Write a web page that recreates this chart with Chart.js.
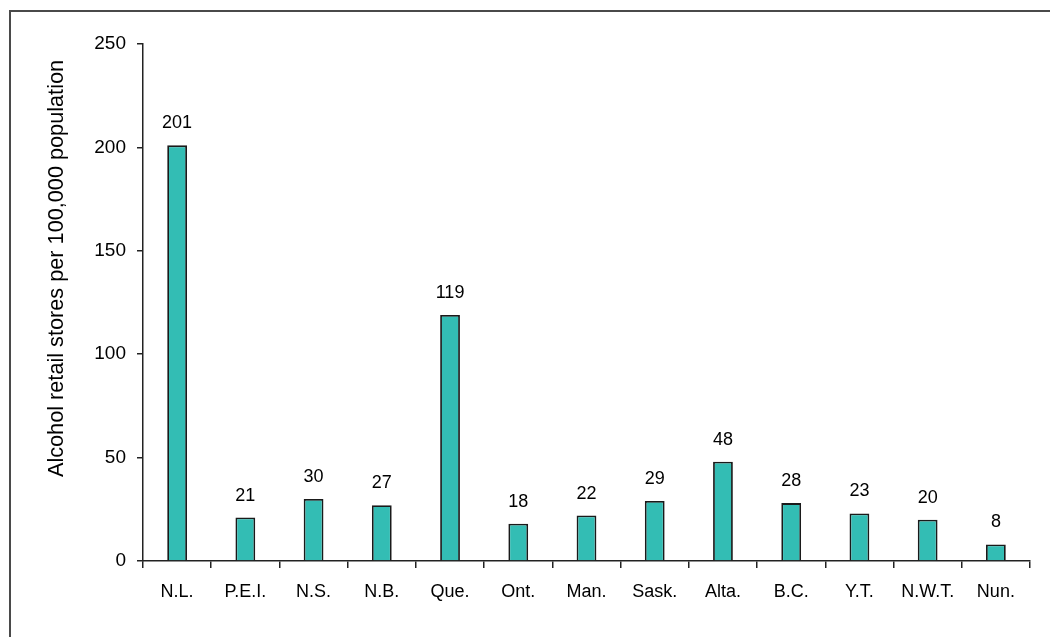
<!DOCTYPE html>
<html>
<head>
<meta charset="utf-8">
<script src="https://cdn.jsdelivr.net/npm/chart.js@4.4.0/dist/chart.umd.min.js"></script>
<style>
  html, body { margin: 0; padding: 0; background: #fff; }
  #wrap { width: 1050px; height: 637px; position: relative; }
</style>
</head>
<body>
<div id="wrap"><canvas id="c" width="1050" height="637"></canvas></div>
<script>
const categories = ["N.L.", "P.E.I.", "N.S.", "N.B.", "Que.", "Ont.", "Man.", "Sask.", "Alta.", "B.C.", "Y.T.", "N.W.T.", "Nun."];
const storesPer100k = [201, 21, 30, 27, 119, 18, 22, 29, 48, 28, 23, 20, 8];
const yTickValues = [0, 50, 100, 150, 200, 250];
const yAxisTitle = "Alcohol retail stores per 100,000 population";

const FONT = "'Liberation Sans', Arial, sans-serif";

const framePlugin = {
  id: 'frame',
  beforeDraw(chart) {
    const ctx = chart.ctx;
    ctx.save();
    ctx.fillStyle = '#fff';
    ctx.fillRect(0, 0, chart.width, chart.height);
    ctx.strokeStyle = '#4a4a4a';
    ctx.lineWidth = 2;
    ctx.beginPath();
    ctx.moveTo(10, chart.height);
    ctx.lineTo(10, 11);
    ctx.lineTo(chart.width, 11);
    ctx.stroke();
    ctx.restore();
  }
};

const axisTitlePlugin = {
  id: 'axisTitle',
  afterDraw(chart) {
    const ctx = chart.ctx;
    ctx.save();
    ctx.translate(57, 268.5);
    ctx.rotate(-Math.PI / 2);
    ctx.font = "21.7px " + FONT;
    ctx.fillStyle = '#000';
    ctx.textAlign = 'center';
    ctx.textBaseline = 'middle';
    ctx.fillText(yAxisTitle, 0, 0);
    ctx.restore();
  }
};

const valueLabels = {
  id: 'valueLabels',
  afterDatasetsDraw(chart) {
    const ctx = chart.ctx;
    const meta = chart.getDatasetMeta(0);
    const data = chart.data.datasets[0].data;
    ctx.save();
    ctx.font = "18px " + FONT;
    ctx.fillStyle = '#000';
    ctx.textAlign = 'center';
    ctx.textBaseline = 'alphabetic';
    meta.data.forEach((bar, i) => {
      ctx.fillText(String(data[i]), bar.x, bar.y - 17);
    });
    ctx.restore();
  }
};

new Chart(document.getElementById('c'), {
  type: 'bar',
  data: {
    labels: categories,
    datasets: [{
      data: storesPer100k,
      backgroundColor: '#33bdb4',
      borderColor: '#1a1a1a',
      borderWidth: 1.8,
      categoryPercentage: 1.0,
      barPercentage: 0.29
    }]
  },
  options: {
    responsive: false,
    animation: false,
    devicePixelRatio: 1,
    layout: { padding: { top: 44, right: 20, bottom: 0, left: 0 } },
    plugins: { legend: { display: false }, tooltip: { enabled: false } },
    scales: {
      x: {
        offset: true,
        grid: { offset: true, drawOnChartArea: false, drawTicks: true, tickLength: 7, color: '#222', lineWidth: 1.5 },
        border: { display: true, color: '#222', width: 1.5 },
        ticks: { color: '#000', font: { family: FONT, size: 18 }, padding: 13, maxRotation: 0, autoSkip: false },
        afterFit(scale) { scale.height = 76; }
      },
      y: {
        min: 0,
        max: 250,
        afterBuildTicks(scale) { scale.ticks = yTickValues.map(v => ({ value: v })); },
        grid: { drawOnChartArea: false, drawTicks: true, tickLength: 6, color: '#222', lineWidth: 1.5 },
        border: { display: true, color: '#222', width: 1.5 },
        ticks: { color: '#000', font: { family: FONT, size: 19 }, padding: 11 },
        title: { display: false },
        afterFit(scale) { scale.width = 143; }
      }
    }
  },
  plugins: [framePlugin, axisTitlePlugin, valueLabels]
});
</script>
</body>
</html>
